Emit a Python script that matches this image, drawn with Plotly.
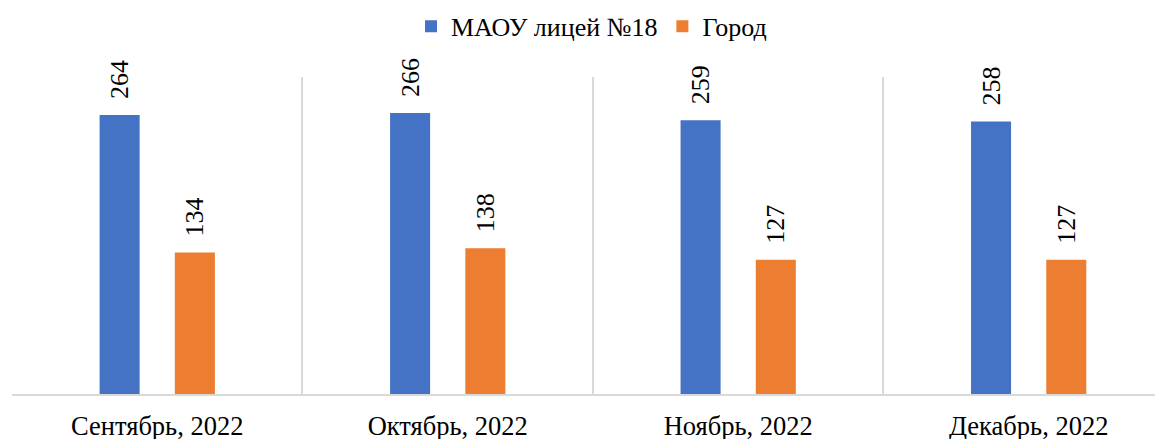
import plotly.graph_objects as go

categories = ["Сентябрь, 2022", "Октябрь, 2022", "Ноябрь, 2022", "Декабрь, 2022"]
school = [264, 266, 259, 258]
city = [134, 138, 127, 127]
series_names = ["МАОУ лицей №18", "Город"]

FONT = "Liberation Serif, Times New Roman, serif"
PAD = "\u00a0\u00a0"

fig = go.Figure()
fig.add_trace(go.Bar(
    x=categories, y=school, name=series_names[0],
    marker_color="#4472C4", text=[PAD + str(v) for v in school],
    textposition="outside", textangle=-90, cliponaxis=False, constraintext="none",
    outsidetextfont=dict(family=FONT, size=26, color="#000000"),
))
fig.add_trace(go.Bar(
    x=categories, y=city, name=series_names[1],
    marker_color="#ED7D31", text=[PAD + str(v) for v in city],
    textposition="outside", textangle=-90, cliponaxis=False, constraintext="none",
    outsidetextfont=dict(family=FONT, size=26, color="#000000"),
))

fig.update_layout(
    template="none",
    width=1163, height=439,
    margin=dict(l=4, r=0, t=69, b=53, autoexpand=False),
    barmode="group", bargap=0.482, bargroupgap=0.468,
    plot_bgcolor="white", paper_bgcolor="white",
    font=dict(family=FONT, size=26, color="#000000"),
    legend=dict(orientation="h", x=0.5, xanchor="center", y=1.16, yanchor="middle",
                font=dict(family=FONT, size=26, color="#000000"), traceorder="normal"),
)
fig.update_xaxes(
    type="category", range=[-0.5, 3.49], tickson="boundaries",
    showgrid=True, gridcolor="#D9D9D9", gridwidth=1.5,
    showline=True, linecolor="#D9D9D9", linewidth=1.5,
    ticks="", ticklabelstandoff=7,
    tickfont=dict(family=FONT, size=26.5, color="#000000"),
)
fig.update_yaxes(
    range=[0, 300], showgrid=False, showticklabels=False, zeroline=False,
    showline=False,
)

fig.write_html("out.html")
